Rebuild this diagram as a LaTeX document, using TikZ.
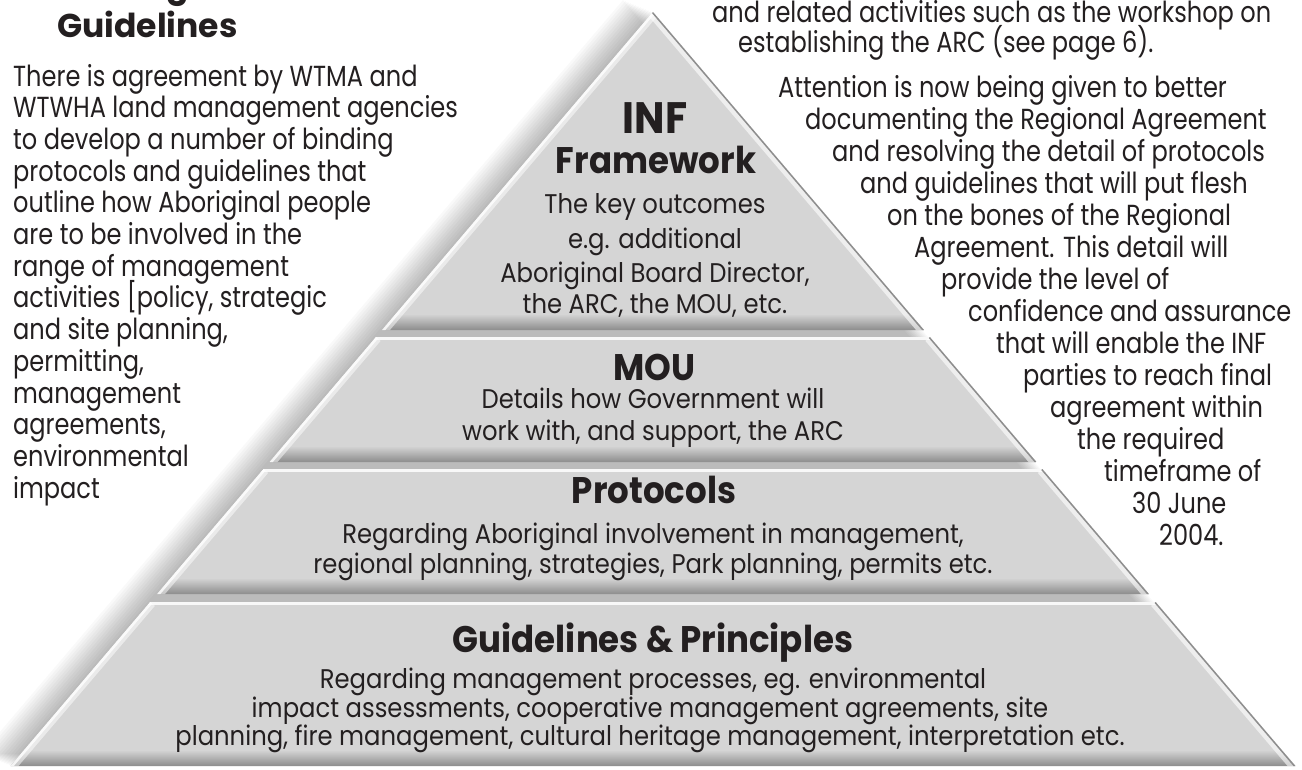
\documentclass[tikz,border=0pt]{standalone}
\usepackage{fontspec}
\setmainfont{Poppins}[FakeStretch=0.83]
\newfontfamily\hfont{Poppins}[FakeStretch=0.92]
\newfontfamily\pfont{Poppins}[FakeStretch=0.9]
\newfontfamily\tfont{Poppins}
\definecolor{txt}{HTML}{231F20}
\definecolor{bandgray}{HTML}{D5D5D5}
\definecolor{edgegray}{HTML}{8E8E8E}
\definecolor{darkstrip}{HTML}{505050}
\definecolor{stripend}{HTML}{8C8C8C}
\newcommand\pyrband[2]{%
  \pgfmathsetmacro\pbxa{653-0.852*(#1-12)}%
  \pgfmathsetmacro\pbxb{653+0.852*(#1-12)}%
  \pgfmathsetmacro\pbxc{653+0.852*(#2-12)}%
  \pgfmathsetmacro\pbxd{653-0.852*(#2-12)}%
  \begin{scope}
    \clip (\pbxa,#1) -- (\pbxb,#1) -- (\pbxc,#2) -- (\pbxd,#2) -- cycle;
    \fill[bandgray] (0,#1) rectangle (1302,#2);
    \shade[top color=bandgray, middle color=darkstrip, bottom color=stripend] (0,#2-16) rectangle (1302,#2);
    \fill[white, opacity=0.85] (0,#1) rectangle (1302,#1+3);
    \draw[white, line width=12pt, opacity=0.5] (\pbxa,#1) -- (\pbxd,#2);
    \draw[white, line width=5pt, opacity=0.8] (\pbxa,#1) -- (\pbxd,#2);
    \draw[white, line width=12pt, opacity=0.6] (\pbxb,#1) -- (\pbxc,#2);
    \draw[edgegray, line width=3pt] (\pbxb,#1) -- (\pbxc,#2);
  \end{scope}}
\begin{document}
\begin{tikzpicture}[x=1pt,y=-1pt,
  body/.style={font=\fontsize{29}{32}\selectfont, text=txt, inner sep=0pt, anchor=base west},
  pbody/.style={font=\pfont\fontsize{27}{30}\selectfont, text=txt, inner sep=0pt, anchor=base},
  pyhead/.style={font=\hfont\bfseries\fontsize{37}{40}\selectfont, text=txt, inner sep=0pt, anchor=base},
  tophead/.style={font=\tfont\bfseries\fontsize{33}{36}\selectfont, text=txt, inner sep=0pt, anchor=base west}]
\useasboundingbox (0,0) rectangle (1302,769);
\fill[white] (0,0) rectangle (1302,769);
% soft shadow of the pyramid
\foreach \i in {1,...,12}{
  \begin{scope}[shift={(-2.5*\i,-1*\i)}]
    \fill[black, fill opacity=0.022] (653,12) -- (1295,766) -- (11,766) -- cycle;
  \end{scope}}
% bands
\pyrband{12}{330}
\pyrband{337}{462}
\pyrband{469}{594}
\pyrband{602}{766}
% pyramid texts
\node[pyhead, font=\hfont\bfseries\fontsize{44}{46}\selectfont] (inf) at (655,133) {INF};
\node[pyhead] (fw) at (656,173) {Framework};
\node[pbody] (inf1) at (655,213) {The key outcomes};
\node[pbody] (inf2) at (655,248) {e.g. additional};
\node[pbody] (inf3) at (655,282) {Aboriginal Board Director,};
\node[pbody] (inf4) at (655,313) {the ARC, the MOU, etc.};
\node[pyhead] (mou) at (654,380) {MOU};
\node[pbody] (mou1) at (653,408) {Details how Government will};
\node[pbody] (mou2) at (653,440) {work with, and support, the ARC};
\node[pyhead] (prot) at (654,503) {Protocols};
\node[pbody] (prot1) at (653,543) {Regarding Aboriginal involvement in management,};
\node[pbody] (prot2) at (653,573) {regional planning, strategies, Park planning, permits etc.};
\node[pyhead] (gp) at (653,652) {Guidelines \& Principles};
\node[pbody] (gp1) at (653,688) {Regarding management processes, eg. environmental};
\node[pbody] (gp2) at (650,717) {impact assessments, cooperative management agreements, site};
\node[pbody] (gp3) at (650,745) {planning, fire management, cultural heritage management, interpretation etc.};
% left column
\node[tophead] (gfrag) at (166,-3) {g};
\node[tophead] (lhead) at (57,37) {Guidelines};
\node[body] (l1) at (13,86) {There is agreement by WTMA and};
\node[body] (l2) at (13,117.7) {WTWHA land management agencies};
\node[body] (l3) at (13,149.4) {to develop a number of binding};
\node[body] (l4) at (13,181.1) {protocols and guidelines that};
\node[body] (l5) at (13,212.8) {outline how Aboriginal people};
\node[body] (l6) at (13,244.5) {are to be involved in the};
\node[body] (l7) at (13,276.2) {range of management};
\node[body] (l8) at (13,307.9) {activities [policy, strategic};
\node[body] (l9) at (13,339.6) {and site planning,};
\node[body] (l10) at (13,371.3) {permitting,};
\node[body] (l11) at (13,403) {management};
\node[body] (l12) at (13,434.7) {agreements,};
\node[body] (l13) at (13,466.4) {environmental};
\node[body] (l14) at (13,498.1) {impact};
% right column
\node[body] (r1) at (712,22) {and related activities such as the workshop on};
\node[body] (r2) at (738,52) {establishing the ARC (see page 6).};
\node[body] (r3) at (778,97) {Attention is now being given to better};
\node[body] (r4) at (805,129) {documenting the Regional Agreement};
\node[body] (r5) at (832,161) {and resolving the detail of protocols};
\node[body] (r6) at (860,193) {and guidelines that will put flesh};
\node[body] (r7) at (887,225) {on the bones of the Regional};
\node[body] (r8) at (914,257) {Agreement. This detail will};
\node[body] (r9) at (941,289) {provide the level of};
\node[body] (r10) at (968,321) {confidence and assurance};
\node[body] (r11) at (996,353) {that will enable the INF};
\node[body] (r12) at (1023,385) {parties to reach final};
\node[body] (r13) at (1050,417) {agreement within};
\node[body] (r14) at (1077,449) {the required};
\node[body] (r15) at (1104,481) {timeframe of};
\node[body] (r16) at (1132,513) {30 June};
\node[body] (r17) at (1159,545) {2004.};
\end{tikzpicture}
\end{document}
